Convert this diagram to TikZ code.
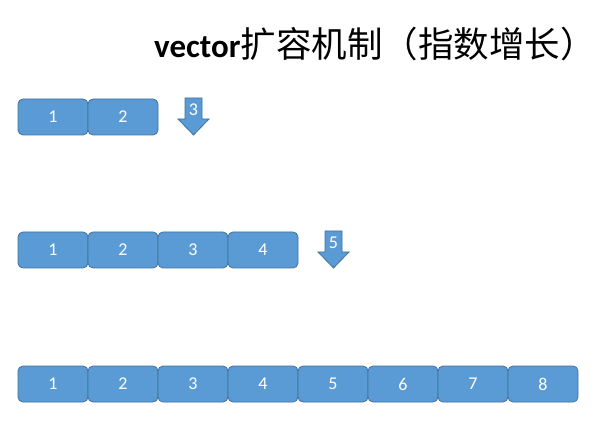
\documentclass[tikz,border=0pt]{standalone}
\usepackage{fontspec}
\setmainfont{Carlito}
\newfontfamily\cjk{Noto Sans CJK SC}
\usepackage{tikz}
\definecolor{cellfill}{HTML}{5B9BD5}
\definecolor{celldraw}{HTML}{41719C}
\tikzset{
  cell/.style={draw=celldraw,fill=cellfill,line width=0.8pt,rounded corners=5,
    minimum width=70,minimum height=36,inner sep=0,text=white,
    font=\fontsize{18}{18}\selectfont},
  pushed/.style={draw=celldraw,fill=cellfill,line width=0.8pt},
  pushnum/.style={text=white,inner sep=0,font=\fontsize{18}{18}\selectfont}
}

\begin{document}
\begin{tikzpicture}[x=1pt,y=-1pt]
  \useasboundingbox (0,0) rectangle (602,430);
  \node[anchor=base west,inner sep=0,font=\fontsize{33}{33}\selectfont] (title) at (154,58)
    {\textbf{vector}{\cjk\fontsize{35.5}{35.5}\selectfont 扩容机制（指数增长）}};
  % capacity 2
  \node[cell] (a1) at (53,117) {1};
  \node[cell] (a2) at (123,117) {2};
  \draw[pushed] (185,98) -- (202,98) -- (202,119) -- (209,119) -- (193.5,135)
    -- (178,119) -- (185,119) -- cycle;
  \node[pushnum] (p3) at (193.5,110) {3};
  % capacity 4
  \node[cell] (b1) at (53,250) {1};
  \node[cell] (b2) at (123,250) {2};
  \node[cell] (b3) at (193,250) {3};
  \node[cell] (b4) at (263,250) {4};
  \draw[pushed] (325,231) -- (342,231) -- (342,252) -- (349,252) -- (333.5,268)
    -- (318,252) -- (325,252) -- cycle;
  \node[pushnum] (p5) at (333.5,243) {5};
  % capacity 8
  \node[cell] (c1) at (53,384) {1};
  \node[cell] (c2) at (123,384) {2};
  \node[cell] (c3) at (193,384) {3};
  \node[cell] (c4) at (263,384) {4};
  \node[cell] (c5) at (333,384) {5};
  \node[cell] (c6) at (403,384) {6};
  \node[cell] (c7) at (473,384) {7};
  \node[cell] (c8) at (543,384) {8};
\end{tikzpicture}
\end{document}
